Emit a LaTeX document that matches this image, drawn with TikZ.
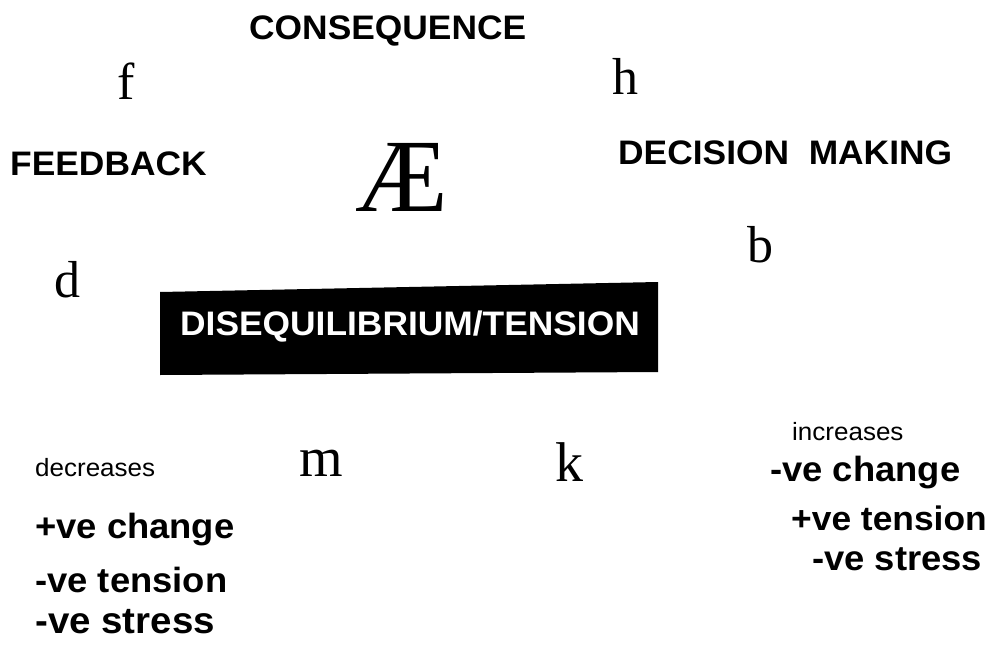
\documentclass[tikz,border=0pt]{standalone}
\usepackage{fontspec}
\setmainfont{Liberation Serif}
\setsansfont[FakeStretch=1.04]{Liberation Sans}
\usepackage{tikz}

\begin{document}
\begin{tikzpicture}[x=1pt,y=-1pt,
  heading/.style={anchor=base west,inner sep=0pt,font=\sffamily\bfseries\fontsize{34}{36}\selectfont},
  letter/.style={anchor=base west,inner sep=0pt,font=\fontsize{52}{56}\selectfont},
  note/.style={anchor=base west,inner sep=0pt,font=\sffamily\fontsize{25}{28}\selectfont},
  effect/.style={anchor=base west,inner sep=0pt,font=\sffamily\bfseries\fontsize{35}{38}\selectfont}]

  \useasboundingbox (0,0) rectangle (992,650);

  \node[heading] (cons) at (249,40) {CONSEQUENCE};
  \node[heading] (feed) at (10,175) {FEEDBACK};
  \node[heading] (dec)  at (618,164) {DECISION\ \ MAKING};

  \node[letter] (f) at (117,100) {f};
  \node[letter] (h) at (612,95) {h};
  \node[letter] (b) at (747,262) {b};
  \node[letter] (d) at (54,297) {d};
  \node[letter,font=\fontsize{56}{60}\selectfont] (m) at (299,476) {m};
  \node[letter,font=\fontsize{56}{60}\selectfont] (k) at (555,481) {k};
  \node[anchor=base west,inner sep=0pt,font=\fontsize{104}{104}\selectfont] (ae) at (355,211) {Æ};

  % the black band
  \fill (160,292) -- (658,282) -- (658,372) -- (160,375) -- cycle;
  \node[text=white,font=\sffamily\bfseries\fontsize{34}{36}\selectfont] (tension) at (410,327) {DISEQUILIBRIUM/TENSION};

  % left side
  \node[note] (decr) at (35,476) {decreases};
  \node[effect] (l1) at (35,538) {+ve change};
  \node[effect] (l2) at (35,592) {-ve tension};
  \node[effect,font=\sffamily\bfseries\fontsize{37}{38}\selectfont] (l3) at (35,633) {-ve stress};

  % right side
  \node[note] (incr) at (792,440) {increases};
  \node[effect] (r1) at (770,481) {-ve change};
  \node[effect,font=\sffamily\bfseries\fontsize{34}{38}\selectfont] (r2) at (791,530) {+ve tension};
  \node[effect] (r3) at (812,570) {-ve stress};
\end{tikzpicture}
\end{document}
